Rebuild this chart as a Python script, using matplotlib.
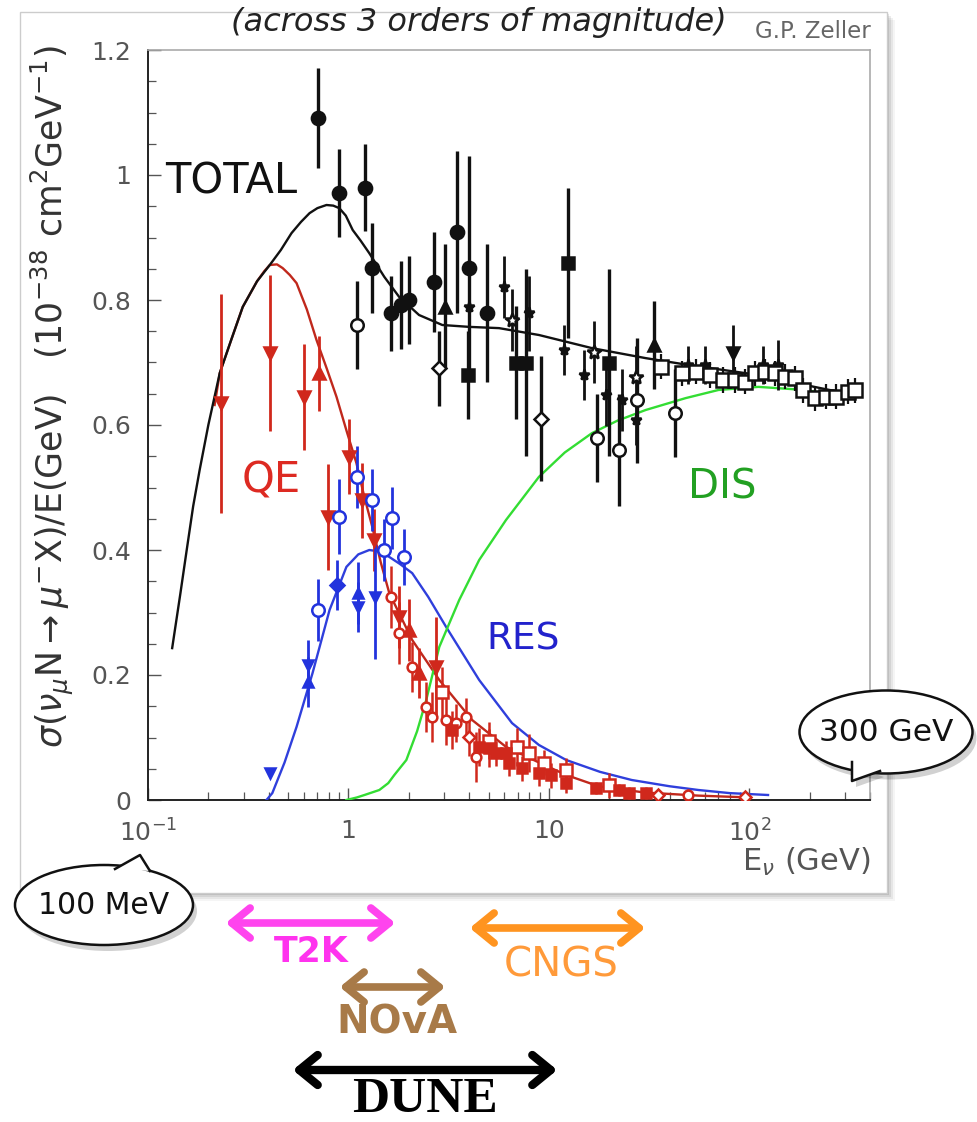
import numpy as np
import matplotlib
matplotlib.use("Agg")
import matplotlib.pyplot as plt
from matplotlib.patches import Ellipse, Polygon, FancyArrowPatch, Rectangle
from matplotlib.ticker import FixedLocator, LogLocator, NullFormatter, FuncFormatter
from matplotlib.lines import Line2D

plt.rcParams['font.family'] = ['DejaVu Sans']
plt.rcParams['mathtext.fontset'] = 'dejavusans'

# ---------------- curves (E in GeV, sigma/E in 1e-38 cm^2/GeV) ----------------
total_E = [0.132, 0.145, 0.156, 0.168, 0.181, 0.20, 0.228, 0.26, 0.297, 0.35, 0.405, 0.46, 0.52, 0.58,
           0.64, 0.70, 0.777, 0.84, 0.90, 0.97, 1.05, 1.15, 1.27, 1.51, 1.79, 2.25, 2.94, 4.0, 5.64, 8.92,
           16.4, 30.4, 49.7, 111, 190, 300]
total_y = [0.243, 0.33, 0.40, 0.47, 0.528, 0.60, 0.683, 0.736, 0.789, 0.83, 0.856, 0.88, 0.907, 0.925,
           0.939, 0.947, 0.952, 0.951, 0.947, 0.935, 0.912, 0.895, 0.875, 0.837, 0.805, 0.776, 0.760, 0.757,
           0.755, 0.744, 0.723, 0.707, 0.696, 0.680, 0.664, 0.651]

qe_E = [0.215, 0.228, 0.26, 0.297, 0.35, 0.38, 0.405, 0.44, 0.47, 0.51, 0.551, 0.62, 0.693, 0.78, 0.872,
        0.98, 1.096, 1.2, 1.315, 1.45, 1.599, 2.08, 2.84, 4.14, 6.11, 8.92, 12.2, 17.7, 30, 55.7, 101]
qe_y = [0.632, 0.683, 0.736, 0.789, 0.83, 0.846, 0.856, 0.857, 0.851, 0.84, 0.827, 0.785, 0.736, 0.69,
        0.645, 0.59, 0.539, 0.485, 0.437, 0.38, 0.331, 0.256, 0.192, 0.128, 0.085, 0.060, 0.040, 0.022,
        0.012, 0.007, 0.004]

res_E = [0.39, 0.417, 0.48, 0.551, 0.662, 0.805, 0.977, 1.12, 1.271, 1.4, 1.545, 1.8, 2.08, 2.5, 3.07,
         4.49, 6.55, 8.92, 12.2, 18, 25.9, 40, 55.7, 80, 124]
res_y = [0.0, 0.011, 0.06, 0.117, 0.203, 0.304, 0.373, 0.393, 0.40, 0.398, 0.392, 0.378, 0.363, 0.325,
         0.277, 0.192, 0.123, 0.088, 0.064, 0.045, 0.032, 0.022, 0.016, 0.011, 0.008]

dis_E = [0.977, 1.1, 1.202, 1.426, 1.58, 1.694, 1.945, 2.2, 2.444, 2.84, 3.57, 4.49, 6.11, 8.92, 12, 16.4,
         22, 30.4, 48.1, 70.1, 111, 190, 300]
dis_y = [0.0, 0.004, 0.008, 0.016, 0.027, 0.04, 0.064, 0.11, 0.16, 0.245, 0.32, 0.384, 0.448, 0.517, 0.556,
         0.587, 0.607, 0.624, 0.643, 0.656, 0.661, 0.656, 0.645]

# ---------------- measurements ----------------
# TOTAL (black)
blk_fc_E = [0.702, 0.900, 1.216, 1.316, 1.636, 1.836, 2.01, 2.68, 3.49, 4.00, 4.92]
blk_fc_y = [1.091, 0.971, 0.980, 0.851, 0.779, 0.792, 0.800, 0.829, 0.909, 0.851, 0.779]
blk_fc_e = [0.080, 0.070, 0.070, 0.072, 0.060, 0.070, 0.070, 0.080, 0.130, 0.180, 0.110]

blk_oc_E = [1.109, 17.3, 22.5, 27.4, 42.4]
blk_oc_y = [0.760, 0.579, 0.560, 0.640, 0.619]
blk_oc_e = [0.070, 0.070, 0.090, 0.100, 0.070]

blk_od_E = [2.84, 9.13]
blk_od_y = [0.691, 0.610]
blk_od_e = [0.060, 0.100]

blk_sq_E = [12.4, 3.95, 6.85, 7.69, 19.9]
blk_sq_y = [0.859, 0.680, 0.700, 0.700, 0.700]
blk_sq_e = [0.120, 0.070, 0.090, 0.150, 0.150]

blk_st_E = [5.97, 7.94, 11.9, 14.9, 19.2, 23.1, 27.1, 49.7, 60.4, 117, 139, 4.0]
blk_st_y = [0.821, 0.779, 0.720, 0.680, 0.648, 0.640, 0.608, 0.696, 0.696, 0.696, 0.696, 0.789]
blk_st_e = [0.050, 0.060, 0.040, 0.040, 0.050, 0.050, 0.040, 0.030, 0.030, 0.030, 0.040, 0.100]

blk_ost_E = [6.55, 16.7, 27.1]
blk_ost_y = [0.768, 0.717, 0.677]
blk_ost_e = [0.050, 0.050, 0.050]

blk_dt_E = [83.2]
blk_dt_y = [0.715]
blk_dt_e = [0.045]

blk_ut_E = [3.04, 33.3]
blk_ut_y = [0.789, 0.728]
blk_ut_e = [0.100, 0.070]

blk_osq_E = [36.1, 45.9, 53.9, 64, 74.3, 85.2, 95.5, 107, 120, 135, 151, 169, 186, 213, 242, 271, 311, 337]
blk_osq_y = [0.693, 0.683, 0.685, 0.680, 0.672, 0.672, 0.669, 0.683, 0.685, 0.683, 0.677, 0.675, 0.656,
             0.643, 0.645, 0.645, 0.653, 0.656]
blk_osq_e = [0.02] * 18

# QE (red)
red_dt_E = [0.231, 0.405, 0.597, 1.012, 0.787, 1.175, 1.346, 1.794, 2.74]
red_dt_y = [0.635, 0.715, 0.645, 0.549, 0.453, 0.480, 0.416, 0.293, 0.213]
red_dt_e = [0.175, 0.125, 0.085, 0.060, 0.085, 0.060, 0.050, 0.050, 0.080]

red_ut_E = [0.717, 2.01, 2.26]
red_ut_y = [0.683, 0.272, 0.203]
red_ut_e = [0.060, 0.050, 0.040]

red_oc_E = [1.636, 1.794, 2.08, 2.44, 2.62, 3.07, 3.45, 4.33, 3.86, 49.7]
red_oc_y = [0.325, 0.267, 0.213, 0.149, 0.133, 0.128, 0.123, 0.069, 0.133, 0.008]
red_oc_e = [0.050, 0.050, 0.040, 0.040, 0.040, 0.040, 0.030, 0.040, 0.030, 0.010]

red_osq_E = [2.94, 6.93, 7.94, 12.2, 19.9, 5.0, 9.5]
red_osq_y = [0.173, 0.085, 0.075, 0.048, 0.024, 0.095, 0.060]
red_osq_e = [0.040, 0.030, 0.030, 0.020, 0.020, 0.030, 0.020]

red_sq_E = [3.29, 4.49, 5.03, 5.45, 6.11, 6.32, 7.34, 8.92, 10.3, 12.2, 17.1, 22.3, 25, 30.4]
red_sq_y = [0.112, 0.085, 0.083, 0.075, 0.075, 0.059, 0.051, 0.043, 0.040, 0.027, 0.019, 0.016, 0.011, 0.011]
red_sq_e = [0.030, 0.030, 0.030, 0.020, 0.020, 0.020, 0.020, 0.020, 0.020, 0.015, 0.010, 0.010, 0.010, 0.010]

red_od_E = [4.0, 35.2, 95.5]
red_od_y = [0.101, 0.008, 0.005]
red_od_e = [0.030, 0.010, 0.005]

# RES (blue)
blu_oc_E = [0.702, 0.900, 1.109, 1.316, 1.51, 1.656, 1.90]
blu_oc_y = [0.304, 0.453, 0.517, 0.480, 0.400, 0.451, 0.389]
blu_oc_e = [0.050, 0.060, 0.050, 0.050, 0.050, 0.050, 0.045]

blu_fd_E = [0.872]
blu_fd_y = [0.344]
blu_fd_e = [0.040]

blu_ut_E = [1.122, 0.625]
blu_ut_y = [0.331, 0.189]
blu_ut_e = [0.050, 0.040]

blu_dt_E = [1.122, 1.362, 0.625, 0.405]
blu_dt_y = [0.309, 0.325, 0.216, 0.043]
blu_dt_e = [0.040, 0.100, 0.040, 0.0]

# axis ticks
xtick_vals = [0.1, 1, 10, 100]
xtick_labels = [r'$10^{-1}$', '1', '10', r'$10^{2}$']
ytick_vals = [0, 0.2, 0.4, 0.6, 0.8, 1.0, 1.2]

W, H = 978, 1122
fig = plt.figure(figsize=(W / 100, H / 100), dpi=100)

# background overlay (panel with shadow)
bg = fig.add_axes([0, 0, 1, 1], zorder=0)
bg.set_xlim(0, W); bg.set_ylim(H, 0); bg.axis('off')
for i, a in enumerate([0.10, 0.08, 0.06, 0.04]):
    d = 2 + 2 * i
    bg.add_patch(Rectangle((20 + d, 12 + d), 867, 881, facecolor='#000000', alpha=a, edgecolor='none'))
bg.add_patch(Rectangle((20, 12), 867, 881, facecolor='white', edgecolor='#cccccc', lw=1.0))

# main axes
ax = fig.add_axes([148 / W, 1 - 800 / H, 722 / W, 750 / H], zorder=1)
ax.set_facecolor('white')
ax.set_xscale('log')
ax.set_xlim(0.1, 400)
ax.set_ylim(0, 1.2)

ax.plot(total_E, total_y, color='#111111', lw=1.7, zorder=4, solid_joinstyle='round')
ax.plot(qe_E, qe_y, color='#c0281c', lw=1.7, zorder=3, solid_joinstyle='round')
ax.plot(res_E, res_y, color='#2f3fdc', lw=1.7, zorder=3, solid_joinstyle='round')
ax.plot(dis_E, dis_y, color='#33dd33', lw=1.7, zorder=3, solid_joinstyle='round')

def eb(E, y, e, marker, color, filled=True, ms=9, elw=2.2):
    ax.errorbar(E, y, yerr=e, fmt=marker, color=color, ecolor=color, elinewidth=elw, capsize=0,
                ms=ms, mfc=color if filled else 'white', mec=color, mew=1.8, zorder=5)

K = '#111111'
eb(blk_fc_E, blk_fc_y, blk_fc_e, 'o', K, True, 9.5, 2.4)
eb(blk_oc_E, blk_oc_y, blk_oc_e, 'o', K, False, 9, 2.4)
eb(blk_od_E, blk_od_y, blk_od_e, 'D', K, False, 7, 2.4)
eb(blk_sq_E, blk_sq_y, blk_sq_e, 's', K, True, 9, 2.4)
eb(blk_st_E, blk_st_y, blk_st_e, '*', K, True, 8, 2.0)
eb(blk_ost_E, blk_ost_y, blk_ost_e, '*', K, False, 10, 2.0)
eb(blk_dt_E, blk_dt_y, blk_dt_e, 'v', K, True, 8, 2.0)
eb(blk_ut_E, blk_ut_y, blk_ut_e, '^', K, True, 9, 2.4)
eb(blk_osq_E, blk_osq_y, blk_osq_e, 's', K, False, 10, 1.6)

R = '#d0281c'
eb(red_dt_E, red_dt_y, red_dt_e, 'v', R, True, 8, 2.0)
eb(red_ut_E, red_ut_y, red_ut_e, '^', R, True, 8, 2.0)
eb(red_oc_E, red_oc_y, red_oc_e, 'o', R, False, 7, 1.8)
eb(red_osq_E, red_osq_y, red_osq_e, 's', R, False, 9, 1.8)
eb(red_sq_E, red_sq_y, red_sq_e, 's', R, True, 7, 1.8)
eb(red_od_E, red_od_y, red_od_e, 'D', R, False, 6, 1.8)

B = '#2233dd'
eb(blu_oc_E, blu_oc_y, blu_oc_e, 'o', B, False, 9, 2.0)
eb(blu_fd_E, blu_fd_y, blu_fd_e, 'D', B, True, 7, 2.0)
eb(blu_ut_E, blu_ut_y, blu_ut_e, '^', B, True, 7, 2.0)
eb(blu_dt_E, blu_dt_y, blu_dt_e, 'v', B, True, 7, 2.0)

# axes style
for s in ['left', 'bottom']:
    ax.spines[s].set_color('#222222'); ax.spines[s].set_linewidth(1.4)
for s in ['top', 'right']:
    ax.spines[s].set_color('#aaaaaa'); ax.spines[s].set_linewidth(1.2)
ax.xaxis.set_major_locator(FixedLocator(xtick_vals))
ax.set_xticklabels(xtick_labels)
ax.xaxis.set_minor_locator(LogLocator(base=10, subs=np.arange(2, 10)))
ax.xaxis.set_minor_formatter(NullFormatter())
ax.yaxis.set_major_locator(FixedLocator(ytick_vals))
ax.yaxis.set_minor_locator(FixedLocator(np.arange(0, 1.2001, 0.05)))
ax.yaxis.set_major_formatter(FuncFormatter(lambda v, p: '0' if abs(v) < 1e-9 else ('1' if abs(v - 1) < 1e-9 else f'{v:.1f}')))
ax.tick_params(axis='both', which='both', direction='in', top=False, right=False, color='#555555')
ax.tick_params(axis='both', which='major', length=9, width=1.0, labelsize=18, labelcolor='#555555')
ax.tick_params(axis='x', which='major', pad=14)
ax.tick_params(axis='y', which='major', pad=12)
ax.tick_params(axis='both', which='minor', length=6, width=0.9)

# curve labels
ax.text(0.1215, 0.99, 'TOTAL', fontsize=30, color='#111111', va='center', ha='left')
ax.text(0.294, 0.512, 'QE', fontsize=30, color='#dd2a22', va='center', ha='left')
ax.text(4.9, 0.256, 'RES', fontsize=27, color='#2222cc', va='center', ha='left')
ax.text(49.6, 0.50, 'DIS', fontsize=29, color='#22a022', va='center', ha='left')

# foreground overlay
fg = fig.add_axes([0, 0, 1, 1], zorder=3)
fg.set_xlim(0, W); fg.set_ylim(H, 0); fg.axis('off')
fg.patch.set_alpha(0)

fg.text(52, 397, r'$\sigma(\nu_\mu\mathrm{N}\rightarrow\mu^{-}\mathrm{X})/\mathrm{E(GeV)}\ \ \ (10^{-38}\ \mathrm{cm^2GeV^{-1}})$',
        rotation=90, ha='center', va='center', fontsize=25, color='#333333')
fg.text(870, 862, r'E$_\nu$ (GeV)', ha='right', va='center', fontsize=22, color='#555555')
fg.text(479, 22, '(across 3 orders of magnitude)', ha='center', va='center', fontsize=23,
        style='italic', color='#222222')
fg.text(871, 31, 'G.P. Zeller', ha='right', va='center', fontsize=16.5, color='#666666')

def bubble(cx, cy, w, h, base1, base2, tip, label, fs):
    fg.add_patch(Ellipse((cx + 4, cy + 6), w, h, facecolor='#000000', alpha=0.18, edgecolor='none'))
    fg.add_patch(Polygon([(base1[0] + 4, base1[1] + 6), (tip[0] + 4, tip[1] + 6), (base2[0] + 4, base2[1] + 6)],
                         closed=True, facecolor='#000000', alpha=0.18, edgecolor='none'))
    fg.add_patch(Ellipse((cx, cy), w, h, facecolor='white', edgecolor='#111111', lw=1.8))
    fg.add_patch(Polygon([base1, tip, base2], closed=True, facecolor='white', edgecolor='none'))
    fg.add_line(Line2D([base1[0], tip[0], base2[0]], [base1[1], tip[1], base2[1]], color='#111111', lw=1.8))
    fg.text(cx, cy, label, ha='center', va='center', fontsize=fs, color='#111111')

bubble(104, 905, 178, 80, (115, 869), (150, 871), (140, 855), '100 MeV', 21.5)
bubble(886, 732, 173, 83, (852, 762), (880, 771), (852, 781), '300 GeV', 22.5)

def rng(x1, x2, y, color, lw=5.5):
    fg.add_patch(FancyArrowPatch((x1, y), (x2, y), arrowstyle='<->,head_length=0.55,head_width=0.45',
                                 mutation_scale=24, lw=lw, color=color, capstyle='round', joinstyle='round'))

rng(223, 398, 923, '#ff44ee')
fg.text(311, 952, 'T2K', ha='center', va='center', fontsize=25, color='#ff33ee', weight='bold')
rng(467, 648, 928, '#ff9420')
fg.text(561, 965, 'CNGS', ha='center', va='center', fontsize=29, color='#ff9a3a')
rng(337, 448, 987, '#a87a48')
fg.text(397, 1023, 'NOvA', ha='center', va='center', fontsize=28, color='#a87a48', weight='bold')
rng(290, 560, 1070, '#000000', 6)
fg.text(425, 1100, 'DUNE', ha='center', va='center', fontsize=37, color='#000000', weight='bold',
        family='Liberation Serif')

fig.savefig('out.png', dpi=100)
